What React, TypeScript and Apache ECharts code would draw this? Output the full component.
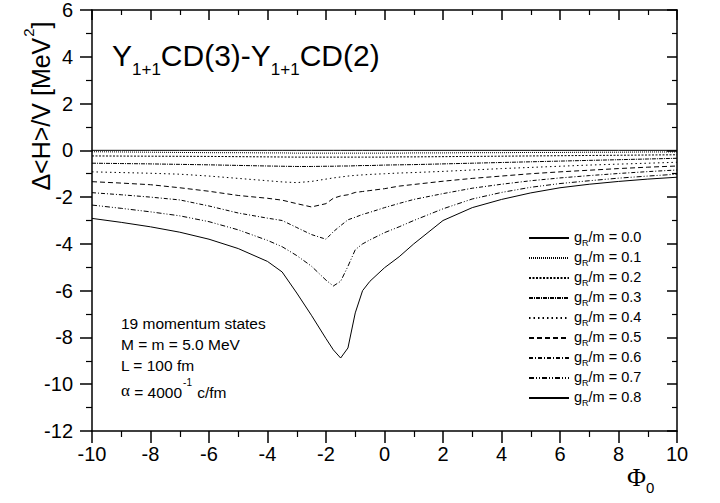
import React, { useEffect, useRef } from 'react';
import * as echarts from 'echarts';

// Phi_0 sample positions
const PHI = [-10, -9, -8, -7, -6, -5, -4, -3.5, -3, -2.5, -2, -1.75, -1.5, -1.25, -1, -0.75, -0.5, 0, 0.5, 1, 2, 3, 4, 5, 6, 7, 8, 9, 10];

const G_LABELS = ['0.0', '0.1', '0.2', '0.3', '0.4', '0.5', '0.6', '0.7', '0.8'];

const G00 = [0, 0, 0, 0, 0, 0, 0, 0, 0, 0, 0, 0, 0, 0, 0, 0, 0, 0, 0, 0, 0, 0, 0, 0, 0, 0, 0, 0, 0];
const G01 = [-0.06, -0.07, -0.08, -0.09, -0.1, -0.1, -0.11, -0.11, -0.12, -0.12, -0.12, -0.12, -0.12, -0.12, -0.12, -0.12, -0.12, -0.12, -0.12, -0.11, -0.11, -0.1, -0.1, -0.09, -0.09, -0.08, -0.08, -0.07, -0.07];
const G02 = [-0.24, -0.245, -0.25, -0.255, -0.26, -0.27, -0.28, -0.285, -0.29, -0.29, -0.29, -0.29, -0.29, -0.29, -0.29, -0.29, -0.29, -0.29, -0.28, -0.28, -0.27, -0.26, -0.25, -0.24, -0.23, -0.22, -0.21, -0.2, -0.19];
const G03 = [-0.55, -0.565, -0.58, -0.6, -0.62, -0.645, -0.67, -0.68, -0.69, -0.69, -0.68, -0.68, -0.67, -0.67, -0.66, -0.65, -0.65, -0.63, -0.62, -0.61, -0.58, -0.55, -0.52, -0.49, -0.46, -0.43, -0.4, -0.37, -0.34];
const G04 = [-0.92, -0.95, -0.98, -1.02, -1.1, -1.2, -1.3, -1.35, -1.38, -1.33, -1.23, -1.18, -1.14, -1.1, -1.07, -1.05, -1.03, -1.0, -0.97, -0.95, -0.9, -0.84, -0.78, -0.73, -0.68, -0.63, -0.59, -0.55, -0.51];
const G05 = [-1.34, -1.4, -1.47, -1.6, -1.75, -1.93, -2.05, -2.13, -2.28, -2.42, -2.28, -2.05, -1.95, -1.9, -1.8, -1.76, -1.72, -1.64, -1.53, -1.46, -1.32, -1.2, -1.1, -1.0, -0.92, -0.85, -0.78, -0.72, -0.67];
const G06 = [-1.81, -1.9, -2.0, -2.12, -2.38, -2.68, -2.9, -3.0, -3.3, -3.6, -3.8, -3.48, -3.22, -2.97, -2.86, -2.74, -2.65, -2.45, -2.27, -2.1, -1.85, -1.62, -1.45, -1.3, -1.18, -1.08, -0.99, -0.91, -0.84];
const G07 = [-2.34, -2.48, -2.63, -2.8, -3.05, -3.4, -3.85, -4.12, -4.5, -4.95, -5.55, -5.8, -5.6, -4.96, -4.25, -4.0, -3.83, -3.52, -3.27, -3.0, -2.5, -2.08, -1.8, -1.58, -1.42, -1.3, -1.19, -1.1, -1.02];
const G08 = [-2.91, -3.08, -3.27, -3.5, -3.8, -4.2, -4.75, -5.2, -6.1, -7.05, -8.05, -8.53, -8.88, -8.45, -6.95, -6.0, -5.6, -5.02, -4.55, -4.0, -3.0, -2.45, -2.1, -1.82, -1.6, -1.45, -1.33, -1.23, -1.15];

const SERIES_VALUES = [G00, G01, G02, G03, G04, G05, G06, G07, G08];
const DASHES: any[] = ['solid', [1, 1], [2, 1.5], [4, 1, 1, 1], [1.5, 3], [5, 3], [4, 2, 1, 2], [5, 2, 1, 2, 1, 2], 'solid'];

const FONT = '"Liberation Sans", Arial, Helvetica, sans-serif';
const SERIF = '"Liberation Serif", "DejaVu Serif", serif';

export default function App() {
  const ref = useRef<HTMLDivElement>(null);
  useEffect(() => {
    const chart = echarts.init(ref.current!, null, { renderer: 'svg' });
    const axisCommon = {
      type: 'value' as const,
      axisLine: { show: true, onZero: false, lineStyle: { color: '#000', width: 1.5 } },
      splitLine: { show: false },
    };
    const option: any = {
      animation: false,
      backgroundColor: '#fff',
      grid: { left: 92, right: 43, top: 10, bottom: 72, containLabel: false },
      xAxis: [
        {
          ...axisCommon, min: -10, max: 10, interval: 2, position: 'bottom',
          axisTick: { show: true, inside: false, length: 12, lineStyle: { color: '#000', width: 1.5 } },
          minorTick: { show: true, splitNumber: 2, length: 6, lineStyle: { color: '#000', width: 1.2 } },
          axisLabel: { fontSize: 20, color: '#000', margin: 13, fontFamily: FONT },
        },
        {
          ...axisCommon, min: -10, max: 10, interval: 2, position: 'top',
          axisTick: { show: true, inside: true, length: 10, lineStyle: { color: '#000', width: 1.5 } },
          minorTick: { show: true, splitNumber: 2, length: 5, lineStyle: { color: '#000', width: 1.2 } },
          axisLabel: { show: false },
        },
      ],
      yAxis: [
        {
          ...axisCommon, min: -12, max: 6, interval: 2, position: 'left',
          axisTick: { show: true, inside: false, length: 12, lineStyle: { color: '#000', width: 1.5 } },
          minorTick: { show: true, splitNumber: 2, length: 6, lineStyle: { color: '#000', width: 1.2 } },
          axisLabel: { fontSize: 20, color: '#000', margin: 19, fontFamily: FONT },
        },
        {
          ...axisCommon, min: -12, max: 6, interval: 2, position: 'right',
          axisTick: { show: true, inside: true, length: 10, lineStyle: { color: '#000', width: 1.5 } },
          minorTick: { show: true, splitNumber: 2, length: 5, lineStyle: { color: '#000', width: 1.2 } },
          axisLabel: { show: false },
        },
      ],
      legend: {
        orient: 'vertical',
        left: 528,
        top: 229,
        padding: 0,
        itemWidth: 40,
        itemHeight: 14,
        itemGap: 2,
        data: G_LABELS,
        itemStyle: { opacity: 0 },
        formatter: (name: string) => `{m|g}{s|R}{m|/m = ${name}}`,
        textStyle: {
          color: '#000',
          fontFamily: FONT,
          fontSize: 14.5,
          rich: {
            m: { fontSize: 14.5, fontFamily: FONT, color: '#000', lineHeight: 18, verticalAlign: 'bottom', padding: [0, 0, 3, 0] },
            s: { fontSize: 9, fontFamily: FONT, color: '#000', lineHeight: 18, verticalAlign: 'bottom' },
          },
        },
      },
      series: SERIES_VALUES.map((vals, i) => ({
        name: G_LABELS[i],
        type: 'line',
        xAxisIndex: 0,
        yAxisIndex: 0,
        symbol: 'none',
        showSymbol: false,
        smooth: false,
        data: PHI.map((x, j) => [x, vals[j]]),
        lineStyle: { color: '#000', width: 1, type: DASHES[i] },
        itemStyle: { color: '#000', opacity: 0 },
      })),
      graphic: [
        {
          type: 'text', left: 112, top: 40,
          style: {
            text: '{m|Y}{s|1+1}{m|CD(3)-Y}{s|1+1}{m|CD(2)}',
            fill: '#000',
            rich: {
              m: { fontSize: 30, fontFamily: FONT, fill: '#000', lineHeight: 42, verticalAlign: 'bottom', padding: [0, 0, 8, 0] },
              s: { fontSize: 17, fontFamily: FONT, fill: '#000', lineHeight: 42, verticalAlign: 'bottom' },
            },
          },
        },
        {
          type: 'text', x: 37, y: 106, rotation: Math.PI / 2,
          style: {
            text: '{m|Δ<H>/V [MeV}{p|2}{m|]}',
            fill: '#000', align: 'center', verticalAlign: 'middle',
            rich: {
              m: { fontSize: 25, fontFamily: FONT, fill: '#000', lineHeight: 32, verticalAlign: 'bottom' },
              p: { fontSize: 15, fontFamily: FONT, fill: '#000', lineHeight: 32, verticalAlign: 'top', padding: [0, 0, 0, 1] },
            },
          },
        },
        {
          type: 'text', left: 627, top: 464,
          style: {
            text: '{f|Φ}{s|0}',
            fill: '#000',
            rich: {
              f: { fontSize: 26, fontFamily: SERIF, fill: '#000', lineHeight: 34, verticalAlign: 'bottom', padding: [0, 0, 5, 0] },
              s: { fontSize: 15, fontFamily: FONT, fill: '#000', lineHeight: 34, verticalAlign: 'bottom' },
            },
          },
        },
        { type: 'text', x: 121, y: 323, style: { text: '19 momentum states', fontSize: 15.5, fontFamily: FONT, fill: '#000', verticalAlign: 'middle' } },
        { type: 'text', x: 121, y: 344, style: { text: 'M = m = 5.0 MeV', fontSize: 15.5, fontFamily: FONT, fill: '#000', verticalAlign: 'middle' } },
        { type: 'text', x: 121, y: 365, style: { text: 'L = 100 fm', fontSize: 15.5, fontFamily: FONT, fill: '#000', verticalAlign: 'middle' } },
        {
          type: 'text', x: 121, y: 388,
          style: {
            text: '{a|α}{m| = 4000}{p|-1}{m| c/fm}',
            fill: '#000', verticalAlign: 'middle',
            rich: {
              a: { fontSize: 17, fontFamily: SERIF, fill: '#000', lineHeight: 24, verticalAlign: 'bottom', padding: [0, 0, 1, 0] },
              m: { fontSize: 15.5, fontFamily: FONT, fill: '#000', lineHeight: 24, verticalAlign: 'bottom' },
              p: { fontSize: 10, fontFamily: FONT, fill: '#000', lineHeight: 24, verticalAlign: 'top', padding: [1, 1, 0, 1] },
            },
          },
        },
      ],
    };
    chart.setOption(option);
    return () => chart.dispose();
  }, []);
  return (
    <div
      ref={ref}
      style={{ position: 'fixed', left: 0, top: 0, width: 720, height: 503, background: '#fff' }}
    />
  );
}
